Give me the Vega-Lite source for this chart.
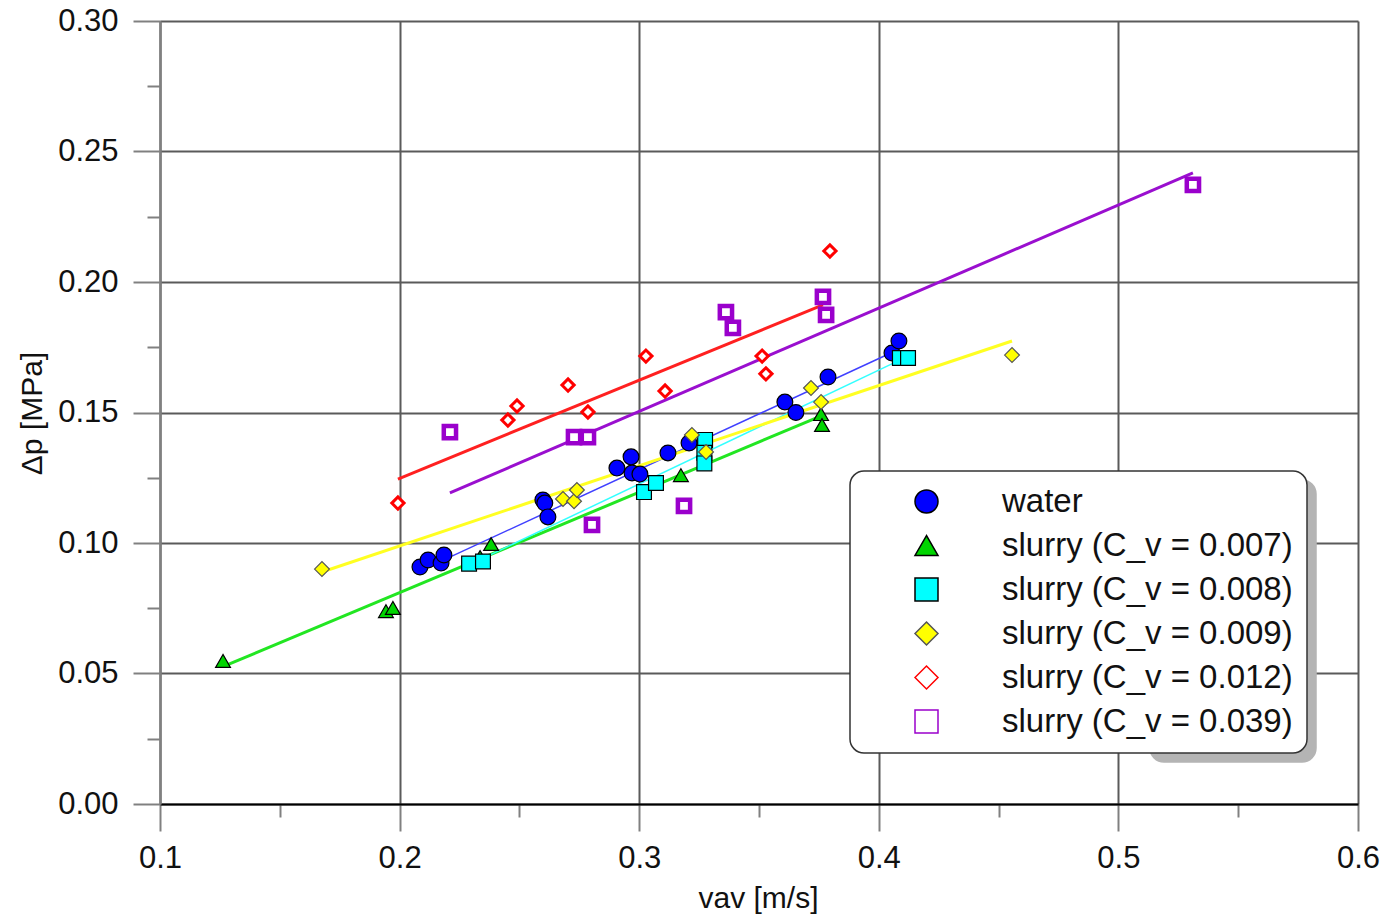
{
  "$schema": "https://vega.github.io/schema/vega-lite/v6.json",
  "width": 1198,
  "height": 783,
  "autosize": "none",
  "padding": {"left": 160, "top": 21, "right": 27, "bottom": 116},
  "background": "white",
  "config": {
    "view": {"stroke": null},
    "font": "Liberation Sans",
    "legend": {"strokeWidth": 1.5}
  },
  "datasets": {
    "pts": [
      {"series": "water", "v": 0.2085, "dp": 0.0908},
      {"series": "water", "v": 0.2119, "dp": 0.0935},
      {"series": "water", "v": 0.2173, "dp": 0.0923},
      {"series": "water", "v": 0.2185, "dp": 0.0954},
      {"series": "water", "v": 0.2598, "dp": 0.1165},
      {"series": "water", "v": 0.2606, "dp": 0.1153},
      {"series": "water", "v": 0.2619, "dp": 0.1100},
      {"series": "water", "v": 0.2907, "dp": 0.1287},
      {"series": "water", "v": 0.2966, "dp": 0.1330},
      {"series": "water", "v": 0.2970, "dp": 0.1268},
      {"series": "water", "v": 0.3003, "dp": 0.1264},
      {"series": "water", "v": 0.3120, "dp": 0.1345},
      {"series": "water", "v": 0.3208, "dp": 0.1383},
      {"series": "water", "v": 0.3608, "dp": 0.1540},
      {"series": "water", "v": 0.3654, "dp": 0.1500},
      {"series": "water", "v": 0.3788, "dp": 0.1636},
      {"series": "water", "v": 0.4055, "dp": 0.1728},
      {"series": "water", "v": 0.4084, "dp": 0.1774},
      {"series": "slurry (C_v = 0.007)", "v": 0.1263, "dp": 0.0548},
      {"series": "slurry (C_v = 0.007)", "v": 0.1943, "dp": 0.0739},
      {"series": "slurry (C_v = 0.007)", "v": 0.1972, "dp": 0.0751},
      {"series": "slurry (C_v = 0.007)", "v": 0.2336, "dp": 0.0946},
      {"series": "slurry (C_v = 0.007)", "v": 0.2382, "dp": 0.0996},
      {"series": "slurry (C_v = 0.007)", "v": 0.3174, "dp": 0.1260},
      {"series": "slurry (C_v = 0.007)", "v": 0.3759, "dp": 0.1494},
      {"series": "slurry (C_v = 0.007)", "v": 0.3763, "dp": 0.1452},
      {"series": "slurry (C_v = 0.008)", "v": 0.2290, "dp": 0.0921},
      {"series": "slurry (C_v = 0.008)", "v": 0.2348, "dp": 0.0929},
      {"series": "slurry (C_v = 0.008)", "v": 0.3020, "dp": 0.1195},
      {"series": "slurry (C_v = 0.008)", "v": 0.3070, "dp": 0.1230},
      {"series": "slurry (C_v = 0.008)", "v": 0.3275, "dp": 0.1395},
      {"series": "slurry (C_v = 0.008)", "v": 0.3272, "dp": 0.1346},
      {"series": "slurry (C_v = 0.008)", "v": 0.3272, "dp": 0.1305},
      {"series": "slurry (C_v = 0.008)", "v": 0.4088, "dp": 0.1709},
      {"series": "slurry (C_v = 0.008)", "v": 0.4122, "dp": 0.1709},
      {"series": "slurry (C_v = 0.009)", "v": 0.1676, "dp": 0.0900},
      {"series": "slurry (C_v = 0.009)", "v": 0.2682, "dp": 0.1169},
      {"series": "slurry (C_v = 0.009)", "v": 0.2728, "dp": 0.1160},
      {"series": "slurry (C_v = 0.009)", "v": 0.2740, "dp": 0.1203},
      {"series": "slurry (C_v = 0.009)", "v": 0.3220, "dp": 0.1414},
      {"series": "slurry (C_v = 0.009)", "v": 0.3279, "dp": 0.1349},
      {"series": "slurry (C_v = 0.009)", "v": 0.3717, "dp": 0.1594},
      {"series": "slurry (C_v = 0.009)", "v": 0.3759, "dp": 0.1540},
      {"series": "slurry (C_v = 0.009)", "v": 0.4556, "dp": 0.1720},
      {"series": "slurry (C_v = 0.012)", "v": 0.1993, "dp": 0.1153},
      {"series": "slurry (C_v = 0.012)", "v": 0.2452, "dp": 0.1471},
      {"series": "slurry (C_v = 0.012)", "v": 0.2490, "dp": 0.1525},
      {"series": "slurry (C_v = 0.012)", "v": 0.2703, "dp": 0.1605},
      {"series": "slurry (C_v = 0.012)", "v": 0.2786, "dp": 0.1502},
      {"series": "slurry (C_v = 0.012)", "v": 0.3028, "dp": 0.1716},
      {"series": "slurry (C_v = 0.012)", "v": 0.3108, "dp": 0.1582},
      {"series": "slurry (C_v = 0.012)", "v": 0.3513, "dp": 0.1716},
      {"series": "slurry (C_v = 0.012)", "v": 0.3529, "dp": 0.1648},
      {"series": "slurry (C_v = 0.012)", "v": 0.3796, "dp": 0.2119},
      {"series": "slurry (C_v = 0.039)", "v": 0.2210, "dp": 0.1425},
      {"series": "slurry (C_v = 0.039)", "v": 0.2728, "dp": 0.1406},
      {"series": "slurry (C_v = 0.039)", "v": 0.2786, "dp": 0.1406},
      {"series": "slurry (C_v = 0.039)", "v": 0.2803, "dp": 0.1069},
      {"series": "slurry (C_v = 0.039)", "v": 0.3187, "dp": 0.1142},
      {"series": "slurry (C_v = 0.039)", "v": 0.3362, "dp": 0.1885},
      {"series": "slurry (C_v = 0.039)", "v": 0.3391, "dp": 0.1824},
      {"series": "slurry (C_v = 0.039)", "v": 0.3767, "dp": 0.1943},
      {"series": "slurry (C_v = 0.039)", "v": 0.3780, "dp": 0.1874},
      {"series": "slurry (C_v = 0.039)", "v": 0.5311, "dp": 0.2372}
    ],
    "fits": [
      {"series": "water", "v": 0.209, "dp": 0.0895},
      {"series": "water", "v": 0.405, "dp": 0.1728},
      {"series": "slurry (C_v = 0.007)", "v": 0.127, "dp": 0.0529},
      {"series": "slurry (C_v = 0.007)", "v": 0.376, "dp": 0.1487},
      {"series": "slurry (C_v = 0.008)", "v": 0.229, "dp": 0.0916},
      {"series": "slurry (C_v = 0.008)", "v": 0.407, "dp": 0.1693},
      {"series": "slurry (C_v = 0.009)", "v": 0.1676, "dp": 0.0889},
      {"series": "slurry (C_v = 0.009)", "v": 0.4556, "dp": 0.1774},
      {"series": "slurry (C_v = 0.012)", "v": 0.1993, "dp": 0.1245},
      {"series": "slurry (C_v = 0.012)", "v": 0.3767, "dp": 0.1912},
      {"series": "slurry (C_v = 0.039)", "v": 0.221, "dp": 0.1192},
      {"series": "slurry (C_v = 0.039)", "v": 0.5311, "dp": 0.2418}
    ]
  },
  "resolve": {"axis": {"x": "independent", "y": "independent"}},
  "layer": [
    {
      "data": {"name": "fits"},
      "mark": {"type": "line", "clip": false},
      "encoding": {
        "x": {"field": "v", "type": "quantitative",
          "scale": {"domain": [0.1, 0.6], "nice": false, "zero": false},
          "axis": {"orient": "bottom", "values": [0.15, 0.25, 0.35, 0.45, 0.55], "labels": false, "grid": false, "domain": false, "ticks": true, "tickSize": 13, "tickColor": "#808080", "tickWidth": 2, "title": null}},
        "y": {"field": "dp", "type": "quantitative",
          "scale": {"domain": [0, 0.3], "nice": false, "zero": false},
          "axis": {"orient": "left", "values": [0.025, 0.075, 0.125, 0.175, 0.225, 0.275], "labels": false, "grid": false, "domain": false, "ticks": true, "tickSize": 13, "tickColor": "#808080", "tickWidth": 2, "title": null}},
        "color": {"field": "series", "type": "nominal", "legend": null,
          "scale": {"domain": ["slurry (C_v = 0.012)", "slurry (C_v = 0.039)", "water", "slurry (C_v = 0.007)", "slurry (C_v = 0.008)", "slurry (C_v = 0.009)"],
                    "range": ["#ff2020", "#9a0fcf", "#4040ff", "#22e622", "#33ffff", "#ffff22"]}},
        "strokeWidth": {"condition": {"test": "datum.series === 'water' || datum.series === 'slurry (C_v = 0.008)'", "value": 1.5}, "value": 3}
      }
    },
    {
      "data": {"name": "pts"},
      "mark": {"type": "point", "filled": true, "opacity": 1, "size": 230},
      "encoding": {
        "x": {"field": "v", "type": "quantitative",
          "scale": {"domain": [0.1, 0.6], "nice": false, "zero": false},
          "axis": {"orient": "bottom", "values": [0.1, 0.2, 0.3, 0.4, 0.5, 0.6], "format": ".1f", "grid": true, "gridColor": "#5a5a5a", "gridWidth": 2,
                   "domainColor": "#000000", "domainWidth": 2, "tickColor": "#808080", "tickWidth": 2, "tickSize": 27,
                   "labelFont": "Liberation Sans", "labelFontSize": 31, "labelColor": "#111111", "labelPadding": 12, "labelFlush": false, "labelOverlap": false,
                   "title": "vav [m/s]", "titleFont": "Liberation Sans", "titleFontSize": 30, "titleFontWeight": "normal", "titleColor": "#111111",
                   "titleX": 598, "titleY": 94, "titleBaseline": "middle", "titleAlign": "center"}},
        "y": {"field": "dp", "type": "quantitative",
          "scale": {"domain": [0, 0.3], "nice": false, "zero": false},
          "axis": {"orient": "left", "values": [0, 0.05, 0.1, 0.15, 0.2, 0.25, 0.3], "format": ".2f", "grid": true, "gridColor": "#5a5a5a", "gridWidth": 2,
                   "domainColor": "#808080", "domainWidth": 2.5, "tickColor": "#808080", "tickWidth": 2, "tickSize": 27,
                   "labelFont": "Liberation Sans", "labelFontSize": 31, "labelColor": "#111111", "labelPadding": 15, "labelOverlap": false,
                   "title": "Δp [MPa]", "titleFont": "Liberation Sans Narrow, Liberation Sans", "titleFontSize": 30, "titleFontWeight": "normal", "titleColor": "#111111",
                   "titleAngle": -90, "titleX": -128, "titleY": 392, "titleBaseline": "middle", "titleAlign": "center"}},
        "fill": {"field": "series", "type": "nominal",
          "scale": {"domain": ["water", "slurry (C_v = 0.007)", "slurry (C_v = 0.008)", "slurry (C_v = 0.009)", "slurry (C_v = 0.012)", "slurry (C_v = 0.039)"],
                    "range": ["#0000ff", "#00d400", "#00ffff", "#ffff00", "#ffffff", "#ffffff"]},
          "legend": {"title": null, "orient": "none", "legendX": 690, "legendY": 450, "zindex": 2,
                     "fillColor": "#ffffff", "strokeColor": "#333333", "cornerRadius": 14, "padding": 14,
                     "labelFont": "Liberation Sans", "labelFontSize": 33, "labelColor": "#111111", "labelLimit": 600,
                     "symbolSize": 529, "symbolStrokeWidth": 1.5, "symbolOffset": 46, "labelOffset": 59, "rowPadding": 10,
                     "encode": {
                       "symbols": {
                         "strokeWidth": {"value": {"expr": "datum.value === 'slurry (C_v = 0.039)' ? 6 : datum.value === 'slurry (C_v = 0.012)' ? 5 : 1.5"}},
                         "size": {"value": {"expr": "datum.value === 'slurry (C_v = 0.039)' ? 289 : datum.value === 'slurry (C_v = 0.012)' ? 256 : 529"}}}}}},
        "stroke": {"field": "series", "type": "nominal",
          "scale": {"domain": ["water", "slurry (C_v = 0.007)", "slurry (C_v = 0.008)", "slurry (C_v = 0.009)", "slurry (C_v = 0.012)", "slurry (C_v = 0.039)"],
                    "range": ["#000000", "#000000", "#000000", "#555555", "#ff0000", "#9a00cc"]},
          "legend": {"title": null, "orient": "none", "legendX": 690, "legendY": 450, "zindex": 2,
                     "fillColor": "#ffffff", "strokeColor": "#333333", "cornerRadius": 14, "padding": 14,
                     "labelFont": "Liberation Sans", "labelFontSize": 33, "labelColor": "#111111", "labelLimit": 600,
                     "symbolSize": 529, "symbolStrokeWidth": 1.5, "symbolOffset": 46, "labelOffset": 59, "rowPadding": 10,
                     "encode": {
                       "symbols": {
                         "strokeWidth": {"value": {"expr": "datum.value === 'slurry (C_v = 0.039)' ? 6 : datum.value === 'slurry (C_v = 0.012)' ? 5 : 1.5"}},
                         "size": {"value": {"expr": "datum.value === 'slurry (C_v = 0.039)' ? 289 : datum.value === 'slurry (C_v = 0.012)' ? 256 : 529"}}}}}},
        "shape": {"field": "series", "type": "nominal",
          "scale": {"domain": ["water", "slurry (C_v = 0.007)", "slurry (C_v = 0.008)", "slurry (C_v = 0.009)", "slurry (C_v = 0.012)", "slurry (C_v = 0.039)"],
                    "range": ["circle", "triangle-up", "square", "diamond", "diamond", "square"]},
          "legend": {"title": null, "orient": "none", "legendX": 690, "legendY": 450, "zindex": 2,
                     "fillColor": "#ffffff", "strokeColor": "#333333", "cornerRadius": 14, "padding": 14,
                     "labelFont": "Liberation Sans", "labelFontSize": 33, "labelColor": "#111111", "labelLimit": 600,
                     "symbolSize": 529, "symbolStrokeWidth": 1.5, "symbolOffset": 46, "labelOffset": 59, "rowPadding": 10,
                     "encode": {
                       "symbols": {
                         "strokeWidth": {"value": {"expr": "datum.value === 'slurry (C_v = 0.039)' ? 6 : datum.value === 'slurry (C_v = 0.012)' ? 5 : 1.5"}},
                         "size": {"value": {"expr": "datum.value === 'slurry (C_v = 0.039)' ? 289 : datum.value === 'slurry (C_v = 0.012)' ? 256 : 529"}}}}}},
        "opacity": {"field": "series", "type": "ordinal",
          "scale": {"domain": ["slurry (C_v = 0.039)", "slurry (C_v = 0.012)", "slurry (C_v = 0.009)", "slurry (C_v = 0.008)", "slurry (C_v = 0.007)", "water"],
                    "range": [1, 1]},
          "legend": {"title": null, "orient": "bottom-right", "offset": 42, "zindex": 1,
                     "fillColor": "#b4b4b4", "strokeColor": "#b4b4b4", "cornerRadius": 14, "padding": 14,
                     "labelFont": "Liberation Sans", "labelFontSize": 33, "labelOpacity": 0, "labelLimit": 600,
                     "labelExpr": "'            '",
                     "symbolSize": 529, "symbolStrokeWidth": 1.5, "symbolOffset": 46, "labelOffset": 59, "rowPadding": 10,
                     "symbolFillColor": "transparent", "symbolStrokeColor": "transparent"}},
        "strokeWidth": {"condition": [
          {"test": "datum.series === 'slurry (C_v = 0.039)'", "value": 4.5},
          {"test": "datum.series === 'slurry (C_v = 0.012)'", "value": 3}], "value": 1.2},
        "size": {"condition": [
          {"test": "datum.series === 'slurry (C_v = 0.039)'", "value": 150},
          {"test": "datum.series === 'slurry (C_v = 0.012)'", "value": 150},
          {"test": "datum.series === 'water'", "value": 250}], "value": 220}
      }
    }
  ]
}
